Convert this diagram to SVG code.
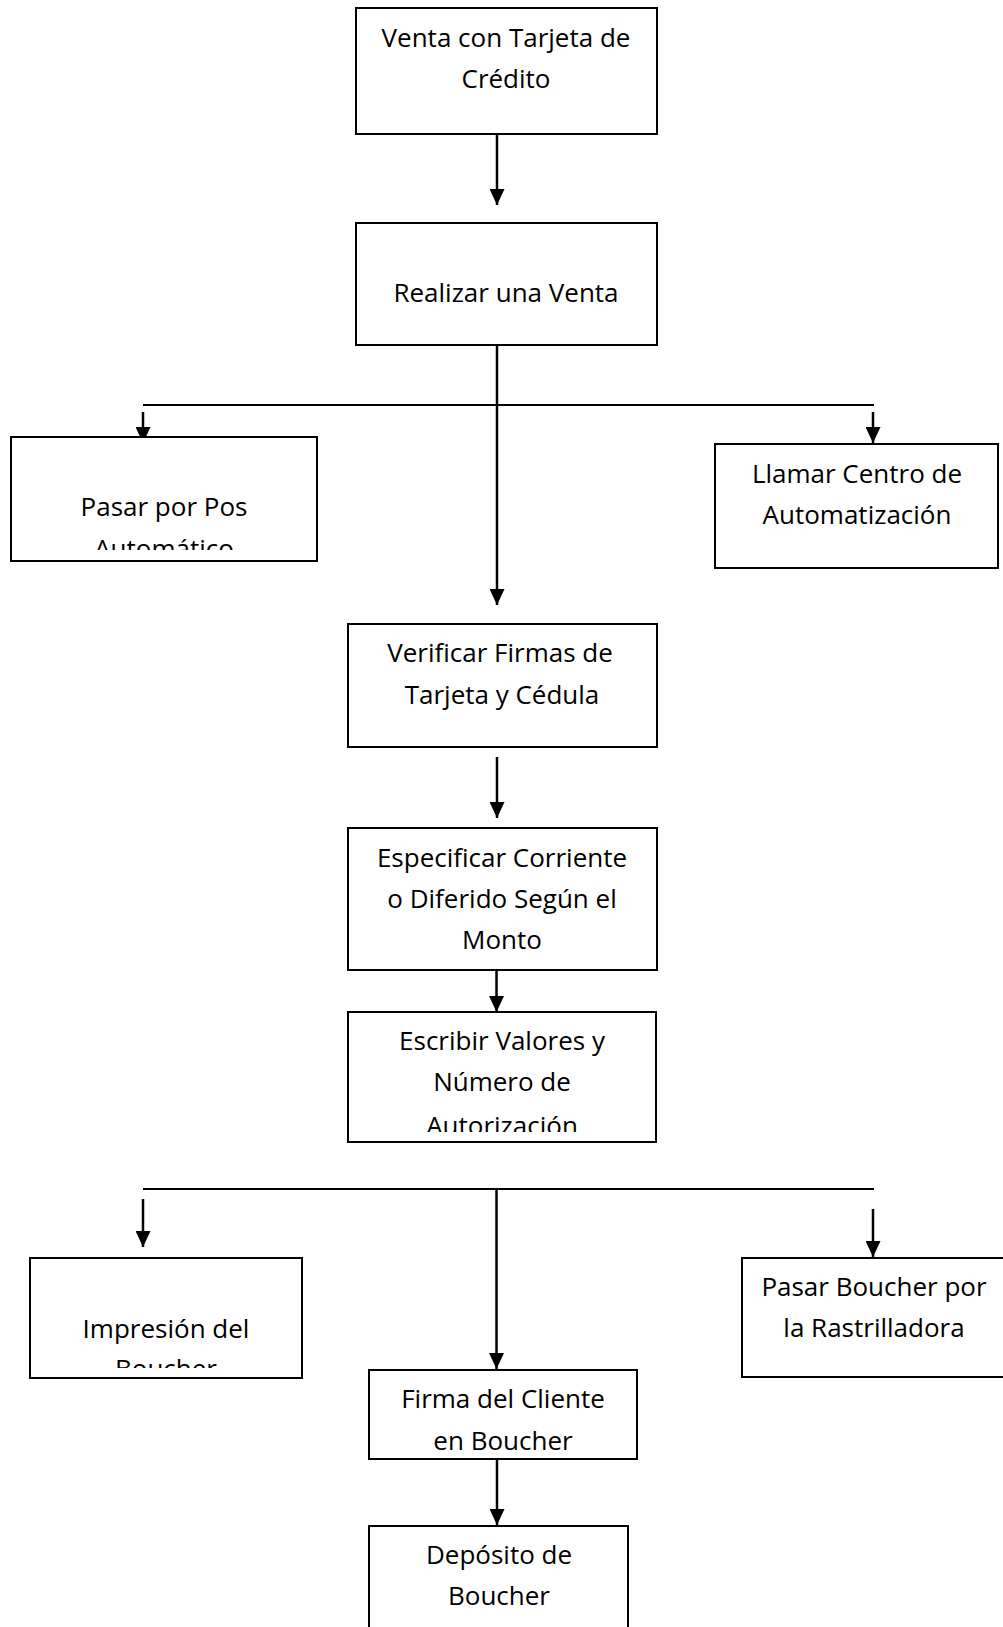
<svg xmlns="http://www.w3.org/2000/svg" width="1003" height="1627" viewBox="0 0 1003 1627">
<style>
.box{fill:#fff;stroke:#000;stroke-width:2}
.t{font-family:"Open Sans",Lato,"Liberation Sans",sans-serif;font-size:26px;fill:#000;text-anchor:middle}
.c{stroke:#000;stroke-width:2.5;fill:none}
.h{stroke:#000;stroke-width:2;fill:none}
</style>
<defs>
<marker id="ah" viewBox="0 0 16 15" refX="16" refY="7.5" markerWidth="16" markerHeight="15" markerUnits="userSpaceOnUse" orient="auto">
<path d="M0,0 L16,7.5 L0,15 z" fill="#000"/>
</marker>
<clipPath id="clipPos"><rect x="11" y="437" width="306" height="113"/></clipPath>
<clipPath id="clipEsc"><rect x="348" y="1012" width="308" height="120"/></clipPath>
<clipPath id="clipImp"><rect x="30" y="1258" width="272" height="110"/></clipPath>
</defs>

<g id="connectors">
<line class="c" x1="497" y1="134" x2="497" y2="205" marker-end="url(#ah)"/>
<line class="c" x1="497" y1="345" x2="497" y2="605" marker-end="url(#ah)"/>
<line class="h" x1="143" y1="405" x2="874" y2="405"/>
<line class="c" x1="143" y1="412" x2="143" y2="443" marker-end="url(#ah)"/>
<line class="c" x1="873" y1="412" x2="873" y2="443" marker-end="url(#ah)"/>
<line class="c" x1="497" y1="757" x2="497" y2="818" marker-end="url(#ah)"/>
<line class="c" x1="496.5" y1="970" x2="496.5" y2="1012" marker-end="url(#ah)"/>
<line class="h" x1="143" y1="1189" x2="874" y2="1189"/>
<line class="c" x1="143" y1="1199" x2="143" y2="1247" marker-end="url(#ah)"/>
<line class="c" x1="496.5" y1="1189" x2="496.5" y2="1369" marker-end="url(#ah)"/>
<line class="c" x1="873" y1="1209" x2="873" y2="1257" marker-end="url(#ah)"/>
<line class="c" x1="497" y1="1459" x2="497" y2="1525" marker-end="url(#ah)"/>
</g>

<g id="n1">
<rect class="box" x="356" y="8" width="301" height="126"/>
<text class="t" x="506" y="47">Venta con Tarjeta de</text>
<text class="t" x="506" y="88">Crédito</text>
</g>
<g id="n2">
<rect class="box" x="356" y="223" width="301" height="122"/>
<text class="t" x="506" y="302">Realizar una Venta</text>
</g>
<g id="n3">
<rect class="box" x="11" y="437" width="306" height="124"/>
<g clip-path="url(#clipPos)">
<text class="t" x="164" y="516">Pasar por Pos</text>
<text class="t" x="164" y="558">Automático</text>
</g>
</g>
<g id="n4">
<rect class="box" x="715" y="444" width="283" height="124"/>
<text class="t" x="857" y="483">Llamar Centro de</text>
<text class="t" x="857" y="524">Automatización</text>
</g>
<g id="n5">
<rect class="box" x="348" y="624" width="309" height="123"/>
<text class="t" x="500" y="662">Verificar Firmas de</text>
<text class="t" x="502" y="704">Tarjeta y Cédula</text>
</g>
<g id="n6">
<rect class="box" x="348" y="828" width="309" height="142"/>
<text class="t" x="502" y="867">Especificar Corriente</text>
<text class="t" x="502" y="908">o Diferido Según el</text>
<text class="t" x="502" y="949">Monto</text>
</g>
<g id="n7">
<rect class="box" x="348" y="1012" width="308" height="130"/>
<g clip-path="url(#clipEsc)">
<text class="t" x="502" y="1050">Escribir Valores y</text>
<text class="t" x="502" y="1091">Número de</text>
<text class="t" x="502" y="1135">Autorización</text>
</g>
</g>
<g id="n8">
<rect class="box" x="30" y="1258" width="272" height="120"/>
<g clip-path="url(#clipImp)">
<text class="t" x="166" y="1338">Impresión del</text>
<text class="t" x="166" y="1378">Boucher</text>
</g>
</g>
<g id="n9">
<rect class="box" x="742" y="1258" width="264" height="119"/>
<text class="t" x="874" y="1296">Pasar Boucher por</text>
<text class="t" x="874" y="1337">la Rastrilladora</text>
</g>
<g id="n10">
<rect class="box" x="369" y="1370" width="268" height="89"/>
<text class="t" x="503" y="1408">Firma del Cliente</text>
<text class="t" x="503" y="1450">en Boucher</text>
</g>
<g id="n11">
<rect class="box" x="369" y="1526" width="259" height="120"/>
<text class="t" x="499" y="1564">Depósito de</text>
<text class="t" x="499" y="1605">Boucher</text>
</g>
</svg>
